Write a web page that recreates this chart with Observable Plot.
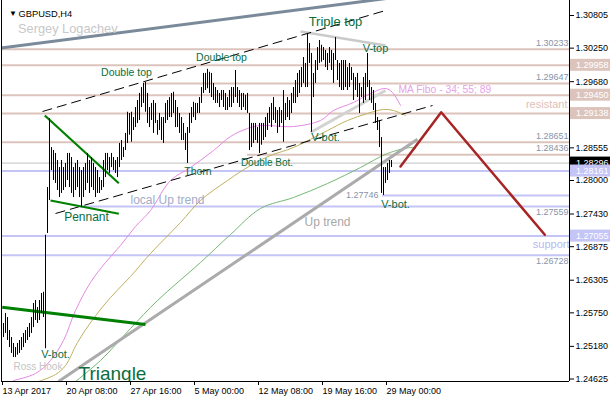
<!DOCTYPE html>
<html><head><meta charset="utf-8">
<script src="https://cdn.jsdelivr.net/npm/d3@7"></script>
<script src="https://cdn.jsdelivr.net/npm/@observablehq/plot@0.6"></script>
<style>body{margin:0;background:#fff}</style>
</head><body><div id="chart"></div>
<script>
// ---- Bar data (H4 bars, index 0 = 13 Apr 2017 00:00) ----
const high = [
1.2557,1.2574,1.2567,1.2545,1.2533,1.2523,1.2516,1.2523,1.2528,1.2533,
1.2540,1.2545,1.2550,1.2557,1.2567,1.2591,1.2596,1.2584,1.2596,1.2608,
1.2610,1.2707,1.2788,1.2905,1.2856,1.2851,1.2846,1.2834,1.2822,1.2834,
1.2822,1.2829,1.2846,1.2846,1.2839,1.2822,1.2829,1.2834,1.2822,1.2817,
1.2822,1.2829,1.2846,1.2834,1.2839,1.2829,1.2822,1.2817,1.2805,1.2800,
1.2834,1.2846,1.2846,1.2839,1.2846,1.2839,1.2834,1.2839,1.2863,1.2868,
1.2856,1.2880,1.2916,1.2914,1.2916,1.2907,1.2924,1.2936,1.2948,1.2958,
1.2965,1.2967,1.2948,1.2924,1.2931,1.2936,1.2931,1.2902,1.2914,1.2907,
1.2907,1.2931,1.2936,1.2941,1.2948,1.2950,1.2936,1.2924,1.2914,1.2907,
1.2897,1.2880,1.2890,1.2914,1.2924,1.2933,1.2931,1.2931,1.2941,1.2958,
1.2982,1.2982,1.2989,1.2984,1.2982,1.2965,1.2958,1.2953,1.2948,1.2953,
1.2953,1.2948,1.2941,1.2953,1.2958,1.2958,1.2987,1.2958,1.2953,1.2948,
1.2948,1.2945,1.2948,1.2914,1.2897,1.2897,1.2897,1.2890,1.2897,1.2897,
1.2897,1.2907,1.2914,1.2924,1.2931,1.2941,1.2924,1.2919,1.2924,1.2919,
1.2953,1.2931,1.2941,1.2936,1.2948,1.2958,1.2970,1.2982,1.2987,1.2992,
1.3009,1.2999,1.3050,1.3033,1.3016,1.2982,1.3004,1.3026,1.3038,1.3030,
1.3026,1.3021,1.3016,1.3026,1.3021,1.3016,1.3043,1.3004,1.2999,1.3004,
1.3004,1.3004,1.2992,1.2999,1.2992,1.2982,1.2975,1.2982,1.2965,1.2958,
1.2975,1.2982,1.3016,1.2970,1.2958,1.2953,1.2931,1.2907,1.2902,1.2873,
1.2822,1.2822,1.2829,1.2834,1.2834
];
const low = [
1.2533,1.2540,1.2528,1.2516,1.2506,1.2499,1.2499,1.2503,1.2506,1.2511,
1.2516,1.2523,1.2528,1.2533,1.2540,1.2550,1.2562,1.2557,1.2562,1.2574,
1.2567,1.2514,1.2710,1.2766,1.2817,1.2800,1.2795,1.2783,1.2771,1.2778,
1.2783,1.2788,1.2800,1.2788,1.2778,1.2771,1.2783,1.2788,1.2771,1.2754,
1.2771,1.2783,1.2795,1.2778,1.2788,1.2783,1.2771,1.2778,1.2778,1.2783,
1.2788,1.2805,1.2817,1.2812,1.2822,1.2817,1.2812,1.2805,1.2822,1.2834,
1.2839,1.2851,1.2863,1.2877,1.2865,1.2885,1.2890,1.2897,1.2902,1.2924,
1.2931,1.2916,1.2897,1.2890,1.2902,1.2880,1.2897,1.2877,1.2885,1.2868,
1.2863,1.2897,1.2902,1.2907,1.2907,1.2914,1.2890,1.2890,1.2880,1.2868,
1.2868,1.2851,1.2829,1.2880,1.2897,1.2907,1.2902,1.2914,1.2914,1.2931,
1.2948,1.2953,1.2956,1.2948,1.2941,1.2936,1.2931,1.2931,1.2924,1.2936,
1.2924,1.2919,1.2919,1.2924,1.2924,1.2931,1.2941,1.2931,1.2924,1.2919,
1.2924,1.2919,1.2914,1.2851,1.2856,1.2863,1.2868,1.2863,1.2846,1.2860,
1.2868,1.2873,1.2885,1.2897,1.2890,1.2902,1.2897,1.2880,1.2890,1.2897,
1.2865,1.2902,1.2907,1.2902,1.2914,1.2931,1.2931,1.2941,1.2948,1.2958,
1.2965,1.2958,1.2958,1.2999,1.2882,1.2941,1.2965,1.2987,1.2999,1.3001,
1.3004,1.2992,1.2987,1.2999,1.2987,1.2965,1.3004,1.2970,1.2958,1.2953,
1.2953,1.2958,1.2953,1.2958,1.2970,1.2936,1.2953,1.2941,1.2914,1.2941,
1.2931,1.2936,1.2958,1.2936,1.2931,1.2919,1.2897,1.2885,1.2856,1.2778,
1.27746,1.2795,1.2800,1.2812,1.2822
];

// ---- Axes ----
const xTickIndex = [0, 32, 64, 96, 128, 160, 192];
const xTickLabels = ["13 Apr 2017","20 Apr 08:00","27 Apr 16:00","5 May 00:00","12 May 08:00","19 May 16:00","29 May 00:00"];
const yTicks = [1.30805,1.30250,1.29680,1.28555,1.28000,1.27430,1.26875,1.26305,1.25750,1.25180,1.24625];
const xDomain = [-1, 283];
const yDomain = [1.24583, 1.3106];

// ---- Horizontal levels ----
const resistLevels = [1.30233,1.29958,1.29647,1.29450,1.29138,1.28651,1.28436];
const resistStart  = [-1,-1,70,-1,-1,-1,122];
const resistLabeled = [1.30233,1.29647,1.28651,1.28436];
const resistBoxed   = [1.29958,1.29450,1.29138];
const supportLevels = [1.28161,1.27746,1.27559,1.27055,1.26728];
const supportStart  = [-1,189.5,38.5,-1,-1];
const supportLabeled = [1.27559,1.26728];
const supportBoxed   = [1.28161,1.27055];
const currentPrice = 1.28296;

// ---- Trend / pattern lines: [x1, y1, x2, y2] in (bar index, price) ----
const slateLine    = [-1.5,1.30253,196,1.31114];
const channelUpper = [19.5,1.29173,191,1.3089];
const channelLower = [26,1.27439,214.5,1.29275];
const pennantUpper = [20.65,1.29105,57.65,1.27954];
const pennantLower = [23.5,1.2766,57.65,1.27434];
const triangleSide = [-0.65,1.25846,71,1.25552];
const tripleTopLine = [148.5,1.30533,191,1.30295];
const vBotLine     = [153.5,1.28816,191,1.2953];
const upTrendLine  = [27.5,1.24583,207,1.28700];
const forecastX = [198.5,218.85,270.65];
const forecastY = [1.28238,1.29161,1.27077];

// ---- Moving averages (MA Fibo 34; 55; 89) ----
const ma34X = [5,16,23.5,30,36,43.5,51,58.5,66,73.5,83.5,93.5,105,113.5,122,128.5,145,158.5,165,175,183.5,191,194.5,198.5];
const ma34Y = [1.2460,1.24719,1.2494,1.2528,1.2579,1.26266,1.26606,1.26895,1.27218,1.2749,1.2800,1.28221,1.2851,1.28748,1.28884,1.28935,1.28918,1.2902,1.2919,1.29326,1.29479,1.29564,1.29496,1.29275];
const ma55X = [17.5,26,31,37,45,53.5,63.5,73.5,88.5,98.5,112,123.5,133.5,145,162,172,182,190,195,201];
const ma55Y = [1.24583,1.24702,1.24855,1.25246,1.25654,1.26011,1.26368,1.26759,1.27286,1.2766,1.2800,1.28255,1.28425,1.28561,1.2885,1.2902,1.29139,1.29207,1.2919,1.29105];
const ma89X = [36,48.5,63.5,77,98.5,113.5,128.5,145,162,178.5,192,203.5,206];
const ma89Y = [1.24583,1.2494,1.25484,1.2596,1.26606,1.27082,1.27524,1.27711,1.27949,1.28221,1.28459,1.2856,1.28544];

// ---- Text notes ----
const greenNotes = ["Double top","Double top","Triple top","V-top","V-bot.","Double Bot.","Thorn","V-bot.","V-bot.","Pennant"];
const greenNoteX = [61.5,109,166,186,161,131.75,97.25,196,26,41.5];
const greenNoteY = [1.29836,1.30091,1.30703,1.30244,1.28731,1.28306,1.28153,1.2759,1.25042,1.27371];
const greenNoteSize = [10.5,10.5,13,11,11,10,10.5,11,11,12];

// ---- build tables ----
const bars = high.map((h, i) => ({i, high: h, low: low[i]}));
const resistRows = resistLevels.map((p, k) => ({price: p, from: resistStart[k]}));
const supportRows = supportLevels.map((p, k) => ({price: p, from: supportStart[k]}));
const seg = a => [{x1: a[0], y1: a[1], x2: a[2], y2: a[3]}];
const pts = (xs, ys) => xs.map((x, k) => ({x, y: ys[k]}));
const notes = greenNotes.map((t, k) => ({t, x: greenNoteX[k], y: greenNoteY[k], s: greenNoteSize[k]}));

const pinkC = "#dcc4bc", lavC = "#c4c4f6", lblC = "#8793a8", greenT = "#0b6e3e";
const linkOpts = (stroke, w, extra = {}) => ({x1: "x1", y1: "y1", x2: "x2", y2: "y2", stroke, strokeWidth: w, clip: true, ...extra});

const chart = Plot.plot({
  width: 610, height: 400,
  marginLeft: 1, marginRight: 41, marginTop: 0, marginBottom: 19,
  style: {fontFamily: "'Liberation Sans', Arial, sans-serif", fontSize: "9px", background: "#fff", overflow: "visible"},
  x: {type: "linear", domain: xDomain, axis: null},
  y: {type: "linear", domain: yDomain, axis: null},
  marks: [
    // levels
    Plot.ruleY(resistRows, {y: "price", x1: "from", x2: () => xDomain[1], stroke: pinkC, strokeWidth: 2}),
    Plot.ruleY(supportRows, {y: "price", x1: "from", x2: () => xDomain[1], stroke: lavC, strokeWidth: 2}),
    Plot.ruleY([currentPrice], {stroke: "#c0c0c0", strokeWidth: 1}),
    Plot.text(resistLabeled, {y: d => d, text: d => d.toFixed(5), frameAnchor: "right", textAnchor: "end", dx: -1, dy: -6.5, fill: lblC, fontSize: 9}),
    Plot.text(supportLabeled, {y: d => d, text: d => d.toFixed(5), frameAnchor: "right", textAnchor: "end", dx: -1, dy: 6, fill: lblC, fontSize: 9}),
    // moving averages
    Plot.line(pts(ma34X, ma34Y), {x: "x", y: "y", stroke: "#e48ae4", strokeWidth: 1, curve: "catmull-rom", clip: true}),
    Plot.line(pts(ma55X, ma55Y), {x: "x", y: "y", stroke: "#bfb060", strokeWidth: 1, curve: "catmull-rom", clip: true}),
    Plot.line(pts(ma89X, ma89Y), {x: "x", y: "y", stroke: "#74b874", strokeWidth: 1, curve: "catmull-rom", clip: true}),
    // trend lines
    Plot.link(seg(slateLine), linkOpts("#7a8a9a", 3)),
    Plot.link(seg(upTrendLine), linkOpts("#ababab", 3)),
    Plot.link(seg(tripleTopLine), linkOpts("#cacaca", 2.5)),
    Plot.link(seg(vBotLine), linkOpts("#d2d2d2", 3)),
    Plot.link(seg(channelUpper), linkOpts("#000", 1, {strokeDasharray: "10,5"})),
    Plot.link(seg(channelLower), linkOpts("#000", 1, {strokeDasharray: "10,5"})),
    Plot.link(seg(pennantUpper), linkOpts("#008000", 2.2)),
    Plot.link(seg(pennantLower), linkOpts("#008000", 2.2)),
    Plot.link(seg(triangleSide), linkOpts("#008000", 3)),
    // bars
    Plot.ruleX(bars, {x: "i", y1: "low", y2: "high", stroke: "#000", strokeWidth: 1}),
    // forecast
    Plot.line(pts(forecastX, forecastY), {x: "x", y: "y", stroke: "#a82424", strokeWidth: 2.5, clip: true}),
    // notes
    Plot.text(notes, {x: "x", y: "y", text: "t", fontSize: "s", fill: greenT}),
    Plot.text(["Triangle"], {x: [37.5], y: [1.24719], text: d => d, textAnchor: "start", fontSize: 19, fill: greenT, clip: true}),
    Plot.text(["Ross Hook"], {x: [5], y: [1.24838], text: d => d, textAnchor: "start", fontSize: 10, fill: "#c4c4c4"}),
    Plot.text(["local Up trend"], {x: [63.5], y: [1.2766], text: d => d, textAnchor: "start", fontSize: 12, fill: "#a4acc8"}),
    Plot.text(["Up trend"], {x: [162], y: [1.27286], text: d => d, fontSize: 12, fill: "#a8a8a8"}),
    Plot.text(["MA Fibo - 34; 55; 89"], {x: [197.5], y: [1.29547], text: d => d, textAnchor: "start", fontSize: 10.3, fill: "#e6a2e8"}),
    Plot.text(["resistant"], {x: [282], y: [1.29292], text: d => d, textAnchor: "end", fontSize: 11, fill: "#e2c0b8"}),
    Plot.text(["support"], {x: [283], y: [1.2692], text: d => d, textAnchor: "end", fontSize: 11, fill: "#b8b8f2"}),
    Plot.text(["1.27746"], {x: [187.5], y: [1.27746], text: d => d, textAnchor: "end", fontSize: 9, fill: lblC}),
    // title
    Plot.text(["▼"], {frameAnchor: "top-left", dx: 7.5, dy: 10, text: d => d, fontSize: 8, fill: "#000"}),
    Plot.text(["GBPUSD,H4"], {frameAnchor: "top-left", dx: 17, dy: 9.5, text: d => d, textAnchor: "start", fontSize: 9.3, fill: "#000"}),
    Plot.text(["Sergey Logachev"], {frameAnchor: "top-left", dx: 16.5, dy: 23.5, text: d => d, textAnchor: "start", fontSize: 12.8, fill: "#c8c8c8"}),
    // frame
    Plot.ruleX([xDomain[0], xDomain[1]], {stroke: "#000", strokeWidth: 1}),
    Plot.ruleY([yDomain[0]], {stroke: "#000", strokeWidth: 1}),
    // axes
    Plot.axisY(yTicks, {anchor: "right", tickSize: 4, tickPadding: 2, tickFormat: d => d.toFixed(5), fill: "#000", stroke: "#000"}),
    Plot.axisX(xTickIndex, {anchor: "bottom", tickSize: 4, tickPadding: 2, textAnchor: "start", dx: -1, tickFormat: d => xTickLabels[xTickIndex.indexOf(d)], fill: "#000", stroke: "#000"})
  ]
});

// value boxes in the price axis
const ys = chart.scale("y");
const yf = ys.apply ? ys.apply : d3.scaleLinear(ys.domain, ys.range);
const svg = d3.select(chart);
const boxG = svg.append("g").attr("text-anchor", "start");
const boxRows = [
  ...resistBoxed.map(p => ({p, c: pinkC})),
  {p: currentPrice, c: "#000"},
  ...supportBoxed.map(p => ({p, c: lavC}))
];
const xRight = 610 - 41;
for (const r of boxRows) {
  const yy = yf(r.p);
  boxG.append("rect").attr("x", xRight + 1).attr("y", yy - 6).attr("width", 40).attr("height", 12).attr("fill", r.c);
  boxG.append("text").attr("x", xRight + 7).attr("y", yy).attr("dy", "0.35em").attr("text-anchor", "start")
    .attr("fill", "#fff").attr("font-size", 9).text(r.p.toFixed(5));
}
document.getElementById("chart").append(chart);
</script>
</body></html>
